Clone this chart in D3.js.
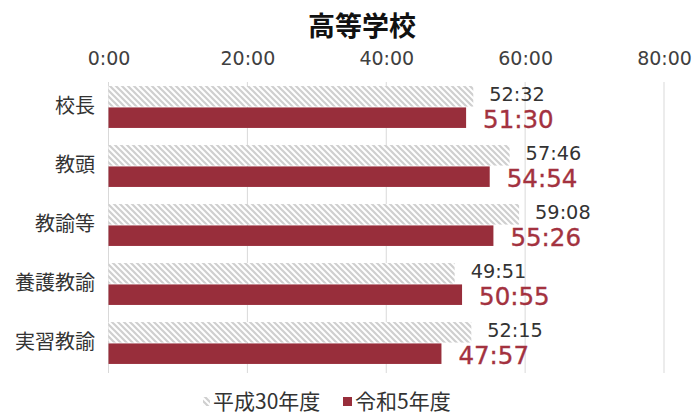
<!DOCTYPE html>
<html><head><meta charset="utf-8">
<script src="https://cdn.jsdelivr.net/npm/d3@7"></script>
<style>
html,body{margin:0;padding:0;background:#fff;}
</style></head>
<body><svg id="c" width="694" height="414"></svg>
<script>
const title = "高等学校";
const categories = ["校長","教頭","教諭等","養護教諭","実習教諭"];
const seriesNames = ["平成30年度","令和5年度"];
const h30 = ["52:32","57:46","59:08","49:51","52:15"];
const r5  = ["51:30","54:54","55:26","50:55","47:57"];
const ticks = [0,20,40,60,80];

const toH = s => { const [h,m] = s.split(":").map(Number); return h + m/60; };
const fmtTick = v => v + ":00";
const numFont = '"DejaVu Sans","Noto Sans",sans-serif';
const jpFont = '"Noto Sans CJK JP","Noto Sans",sans-serif';

const svg = d3.select("#c").style("font-family", jpFont);
const defs = svg.append("defs");
const pat = defs.append("pattern").attr("id","hatch").attr("patternUnits","userSpaceOnUse")
  .attr("width",6).attr("height",6);
pat.append("rect").attr("width",6).attr("height",6).attr("fill","#fff");
pat.append("path").attr("d","M0,0L6,6M-3,3L3,9M3,-3L9,3").attr("stroke","#cfcfcf").attr("stroke-width",2.2);

const x = d3.scaleLinear().domain([0,80]).range([108.5,664]);
const y = d3.scaleBand().domain(categories).range([77.5,372.5]).paddingInner(0.29).paddingOuter(0.145);
const ys = d3.scaleBand().domain(["h30","r5"]).range([0,y.bandwidth()]).paddingInner(0.04);

// title
svg.append("text").attr("x",362).attr("y",36).attr("text-anchor","middle")
  .style("font-family",jpFont).style("font-size","27px").style("font-weight","bold").attr("fill","#111").text(title);

// gridlines
svg.append("g").selectAll("line").data(ticks).join("line")
  .attr("x1",d=>x(d)).attr("x2",d=>x(d)).attr("y1",82).attr("y2",373)
  .attr("stroke","#d9d9d9").attr("stroke-width",1);

// top axis labels
const ax = svg.append("g").attr("transform","translate(0,65)")
  .call(d3.axisTop(x).tickValues(ticks).tickFormat(fmtTick).tickSize(0).tickPadding(0));
ax.select(".domain").remove();
ax.attr("font-family",null).attr("font-size",null);
ax.selectAll("text").style("font-size","19px").attr("fill","#404040")
  .style("font-family",numFont).attr("dy",0);

// category labels
const ay = svg.append("g").attr("transform","translate(95,0)")
  .call(d3.axisLeft(y).tickSize(0).tickPadding(0));
ay.select(".domain").remove();
ay.attr("font-family",null).attr("font-size",null);
ay.selectAll("text").style("font-size","20px").attr("fill","#333")
  .style("font-family",jpFont);

const rows = categories.map((c,i)=>({c, a:h30[i], b:r5[i]}));
const g = svg.append("g");
// H30 bars
g.selectAll(".ba").data(rows).join("rect").attr("class","ba")
  .attr("x",x(0)).attr("y",d=>y(d.c)+ys("h30")).attr("height",ys.bandwidth())
  .attr("width",d=>x(toH(d.a))-x(0)).attr("fill","url(#hatch)");
// R5 bars
g.selectAll(".bb").data(rows).join("rect").attr("class","bb")
  .attr("x",x(0)).attr("y",d=>y(d.c)+ys("r5")).attr("height",ys.bandwidth())
  .attr("width",d=>x(toH(d.b))-x(0)).attr("fill","#982e3b");
// labels
g.selectAll(".la").data(rows).join("text").attr("class","la")
  .attr("x",d=>x(toH(d.a))+16).attr("y",d=>y(d.c)+ys("h30")+ys.bandwidth()/2-2)
  .attr("dy","0.36em").style("font-size","19.3px").style("font-family",numFont).attr("fill","#333").text(d=>d.a);
g.selectAll(".lb").data(rows).join("text").attr("class","lb")
  .attr("x",d=>x(toH(d.b))+17).attr("y",d=>y(d.c)+ys("r5")+ys.bandwidth()/2+1.8)
  .attr("dy","0.36em").style("font-size","24.5px").style("font-family",numFont)
  .attr("fill","#a3323f").attr("stroke","#a3323f").attr("stroke-width",0.35).text(d=>d.b);

// legend
const lg = svg.append("g");
lg.append("rect").attr("x",203).attr("y",397).attr("width",7).attr("height",9).attr("fill","url(#hatch)");
lg.append("text").attr("x",213).attr("y",401).attr("dy","0.36em").style("font-size","21px").attr("fill","#333").text(seriesNames[0]);
lg.append("rect").attr("x",343).attr("y",397).attr("width",9).attr("height",9).attr("fill","#982e3b");
lg.append("text").attr("x",355).attr("y",401).attr("dy","0.36em").style("font-size","21px").attr("fill","#333").text(seriesNames[1]);
</script></body></html>
